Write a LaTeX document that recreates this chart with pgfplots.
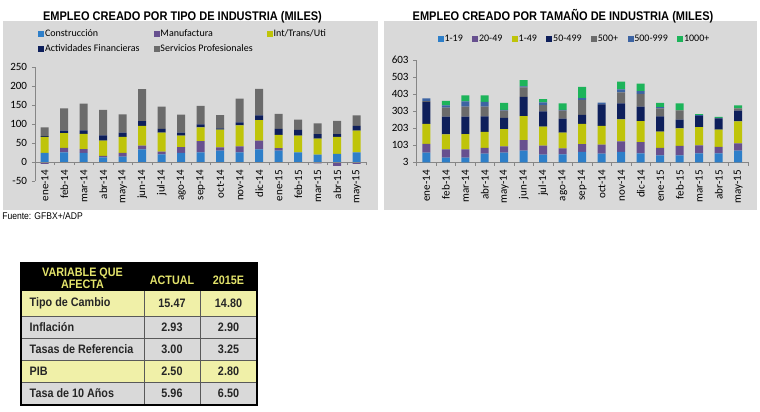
\documentclass[border=0pt]{standalone}
\usepackage{pgfplots}
\pgfplotsset{compat=1.18}
\usepackage{pgfplotstable}
\usepackage{fontspec}
\setmainfont{Liberation Sans}
\newfontfamily\calibri{Carlito}
\newfontfamily\arialn[FakeStretch=0.88]{Liberation Sans}

\definecolor{panel}{HTML}{D9D9D9}
\definecolor{axisgray}{HTML}{868686}
\definecolor{cBlue}{HTML}{2E7FC9}
\definecolor{cPurple}{HTML}{67508F}
\definecolor{cOlive}{HTML}{BFC40A}
\definecolor{cNavy}{HTML}{0E1F5B}
\definecolor{cGray}{HTML}{6B6B6B}
\definecolor{cSteel}{HTML}{3D64A3}
\definecolor{cGreen}{HTML}{1DB45A}
\definecolor{rowYellow}{HTML}{F0F0A8}
\definecolor{rowGray}{HTML}{D9D9D9}
\definecolor{hdrYellow}{HTML}{E3E36B}

\newcommand\tickfont{\calibri\fontsize{8.3}{9}\selectfont}
\newcommand\lgfont{\calibri\fontsize{7.5}{9}\selectfont}
\newcommand\ttlfont{\arialn\bfseries\fontsize{9.4}{11}\selectfont}
\newcommand\tabfont{\arialn\bfseries\fontsize{9.2}{8.8}\selectfont}

% Empleo creado por tipo de industria (miles)
\pgfplotstableread{
mes    C  M   I  F  S
ene-14 24 -5  42 2  23
feb-14 25 12  39 6  59
mar-14 24 10  40 9  70
abr-14 12 4   40 14 67
may-14 14 10  42 11 48
jun-14 33 10  52 12 84
jul-14 20 7   50 10 58
ago-14 24 15  30 8  47
sep-14 25 30  36 8  48
oct-14 30 8   47 3  35
nov-14 25 16  55 8  62
dic-14 33 23  54 12 70
ene-15 30 6   35 16 39
feb-15 25 0   44 15 27
mar-15 19 -4  42 12 28
abr-15 21 -10 45 7  35
may-15 25 -5  57 13 27
}\ind

% Empleo creado por tamano de empresa (miles)
\pgfplotstableread{
mes    A  B  Cc  D   E  F  G
ene-14 60 51 117 129 5  16 0
feb-14 30 49 88  104 53 13 26
mar-14 30 49 90  102 58 31 35
abr-14 54 33 94  92  56 28 39
may-14 60 37 100 66  43 4  41
jun-14 71 62 141 113 55 6  37
jul-14 48 53 111 90  37 16 19
ago-14 50 35 92  82  47 4  39
sep-14 64 45 119 53  88 10 67
oct-14 54 53 109 127 0  10 0
nov-14 64 62 129 94  64 18 45
dic-14 56 66 123 84  75 17 43
ene-15 44 43 96  90  47 7  24
feb-15 44 55 103 51  55 0  41
mar-15 56 47 107 65  0  5  6
abr-15 56 37 102 66  0  3  5
may-15 71 43 129 63  14 0  17
}\tam

\pgfplotsset{
  excel/.style={
    scale only axis, width=248.6pt,
    xmin=-0.5, xmax=16.5,
    xtick={0,...,16},
    minor xtick={-0.5,0.5,...,16.5},
    major x tick style={draw=none},
    minor x tick style={draw=axisgray},
    ytick style={draw=axisgray},
    tick align=outside,
    major tick length=2.4pt, minor tick length=2.4pt,
    axis line style={draw=axisgray, -},
    xticklabel style={rotate=90, anchor=east, font=\tickfont},
    yticklabel style={font=\tickfont},
    /pgf/number format/assume math mode=true,
    ybar stacked, bar width=6pt,
    legend cell align=left,
    legend image code/.code={\draw[##1, draw=none] (0pt,-2.25pt) rectangle (4.5pt,2.25pt);},
    legend style={draw=none, fill=none, inner sep=0pt, font=\lgfont,
      nodes={inner sep=0.6pt}},
  },
}

\begin{document}
\begin{tikzpicture}[x=0.75pt, y=-0.75pt]
\fill[white] (0,0) rectangle (760,411);
\fill[panel] (3,20.5) rectangle (378,210);
\fill[panel] (384,20.5) rectangle (757,210);
\node[font=\ttlfont, anchor=base, inner sep=0pt] at (182.5,20) {EMPLEO CREADO POR TIPO DE INDUSTRIA (MILES)};
\node[font=\ttlfont, anchor=base, inner sep=0pt] at (563,20) {EMPLEO CREADO POR TAMAÑO DE INDUSTRIA (MILES)};

\coordinate (LA) at (35,181);
\coordinate (RA) at (416.5,162.3);

% manufactura negativa, por debajo de cero
\begin{axis}[at={(LA)}, anchor=south west, scale only axis,
  width=248.6pt, height=85.7pt, xmin=-0.5, xmax=16.5, ymin=-50, ymax=250,
  hide axis, ybar, bar width=6pt]
\addplot[fill=cPurple, draw=none] table[x expr=\coordindex, y expr={min(\thisrow{M},0)}] {\ind};
\end{axis}

\begin{axis}[excel, at={(LA)}, anchor=south west, height=85.7pt,
  ymin=-50, ymax=250, ytick={-50,0,...,250},
  axis y line*=left, axis x line*=middle,
  xticklabels from table={\ind}{mes},
  legend columns=3,
  legend style={at={(axis description cs:0.009,1.2205)}, anchor=west,
    row sep=2.8pt, /tikz/every even column/.append style={column sep=10pt}}]
\addplot[fill=cBlue, draw=none] table[x expr=\coordindex, y=C] {\ind};
\addplot[fill=cPurple, draw=none] table[x expr=\coordindex, y expr={max(\thisrow{M},0)}] {\ind};
\addplot[fill=cOlive, draw=none] table[x expr=\coordindex, y=I] {\ind};
\addplot[fill=cNavy, draw=none] table[x expr=\coordindex, y=F] {\ind};
\addplot[fill=cGray, draw=none] table[x expr=\coordindex, y=S] {\ind};
\legend{Construcción, Manufactura, Int/Trans/Uti, Actividades Financieras, Servicios Profesionales}
\end{axis}

\begin{axis}[excel, at={(RA)}, anchor=south west, height=76.7pt,
  ymin=3, ymax=603, ytick={3,103,...,603},
  axis y line*=left, axis x line*=bottom,
  xticklabels from table={\tam}{mes},
  legend columns=7,
  legend style={at={(axis description cs:0.475,1.208)}, anchor=center,
    /tikz/every even column/.append style={column sep=6.5pt}}]
\addplot[fill=cBlue, draw=none] table[x expr=\coordindex, y=A] {\tam};
\addplot[fill=cPurple, draw=none] table[x expr=\coordindex, y=B] {\tam};
\addplot[fill=cOlive, draw=none] table[x expr=\coordindex, y=Cc] {\tam};
\addplot[fill=cNavy, draw=none] table[x expr=\coordindex, y=D] {\tam};
\addplot[fill=cGray, draw=none] table[x expr=\coordindex, y=E] {\tam};
\addplot[fill=cSteel, draw=none] table[x expr=\coordindex, y=F] {\tam};
\addplot[fill=cGreen, draw=none] table[x expr=\coordindex, y=G] {\tam};
\legend{1-19, 20-49, 1-49, 50-499, 500+, 500-999, 1000+}
\end{axis}

\node[font=\arialn\fontsize{7.3}{8}\selectfont, anchor=west, inner sep=0pt] at (2,216) {Fuente: GFBX+/ADP};

% tabla de variables
\fill[black] (21,263) rectangle (257,291);
\fill[rowYellow] (21,291) rectangle (257,316);
\fill[rowGray] (21,316) rectangle (257,360);
\fill[rowYellow] (21,360) rectangle (257,382);
\fill[rowGray] (21,382) rectangle (257,405);
\foreach \yy in {316,338,360,382} \draw[gray!70!black, line width=0.6pt] (21,\yy) -- (257,\yy);
\foreach \xx in {144,200} \draw[gray!70!black, line width=0.6pt] (\xx,291) -- (\xx,405);
\draw[black, line width=0.8pt] (21,263) rectangle (257,405);
\node[font=\tabfont, text=hdrYellow, align=center] at (82.5,278.5) {VARIABLE QUE\\AFECTA};
\node[font=\tabfont, text=hdrYellow] at (172,280) {ACTUAL};
\node[font=\tabfont, text=hdrYellow] at (228.5,280) {2015E};
\foreach \lab/\a/\b/\yy in {Tipo de Cambio/15.47/14.80/303.5, Inflación/2.93/2.90/327, Tasas de Referencia/3.00/3.25/349, PIB/2.50/2.80/371, Tasa de 10 Años/5.96/6.50/393.5} {
  \node[font=\tabfont, anchor=west, text=black!85] at (25,\yy) {\lab};
  \node[font=\tabfont, text=black!85] at (172,\yy) {\a};
  \node[font=\tabfont, text=black!85] at (228.5,\yy) {\b};
}
\end{tikzpicture}
\end{document}
